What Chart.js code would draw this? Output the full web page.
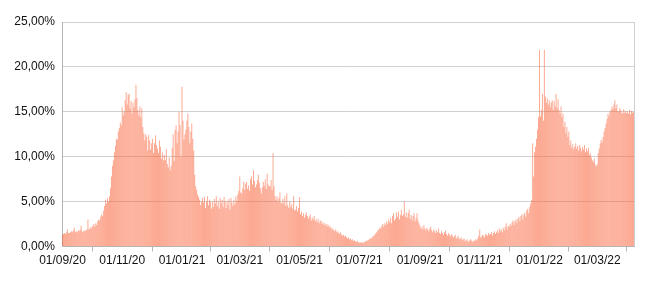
<!DOCTYPE html>
<html><head><meta charset="utf-8">
<script src="https://cdn.jsdelivr.net/npm/chart.js@4.4.1/dist/chart.umd.min.js"></script>
<style>html,body{margin:0;padding:0;background:#fff;}#wrap{width:650px;height:281px;position:relative;}</style>
</head><body><div id="wrap"><canvas id="c"></canvas></div>
<script>
// Daily values (%) from 01/09/2020 to 07/04/2022, one array per month
const sep20 = [1.3,1.4,1.5,1.4,1.6,1.9,1.5,1.5,1.6,1.7,1.6,1.8,2.1,1.6,1.7,1.6,1.8,1.7,1.9,2.3,1.7,1.6,1.8,1.7,1.8,1.9,3.0,1.9,2.0,2.2];
const oct20 = [2.0,2.3,2.5,2.2,2.6,2.4,2.8,3.0,2.9,3.3,3.6,3.4,4.0,4.5,5.2,4.8,5.4,5.0,5.6,6.5,7.8,9.0,9.6,10.5,11.2,12.0,11.9,12.8,13.2,13.8,13.5];
const nov20 = [15.5,14.6,15.0,16.3,17.2,15.8,16.9,17.0,15.4,16.2,14.8,16.0,15.5,16.4,18.0,16.5,15.2,14.6,15.6,14.4,15.4,13.3,12.6,11.8,12.5,12.2,10.7,12.4,11.8,10.8];
const dec20 = [11.5,12.0,10.4,11.5,12.4,11.3,10.9,10.4,11.8,11.1,9.8,10.5,9.6,10.2,9.6,10.8,9.2,8.8,9.9,8.5,9.0,11.0,12.5,9.5,13.0,13.5,11.5,12.8,15.0,13.5,10.0];
const jan21 = [17.8,14.0,11.9,12.5,13.0,14.0,14.8,13.3,11.5,12.8,13.7,12.0,10.7,8.0,6.7,6.3,5.8,5.5,5.2,4.6,5.0,5.4,4.9,5.5,4.3,5.0,5.6,4.6,5.2,5.0,4.2];
const feb21 = [5.0,4.4,5.3,4.8,5.6,4.5,5.1,4.2,5.4,4.8,5.2,4.4,5.5,5.0,4.3,5.1,4.6,5.3,4.1,5.4,4.9,4.5,5.2,4.7,5.6,5.1,5.8,6.2];
const mar21 = [7.8,6.0,5.9,6.5,7.2,6.3,7.0,7.2,6.4,6.8,6.2,7.5,7.8,6.9,8.5,7.3,6.6,6.9,7.4,8.0,7.1,6.5,5.9,6.6,7.2,6.8,7.5,6.4,8.1,6.9,6.7];
const apr21 = [6.7,7.4,6.3,10.4,6.7,5.6,5.2,5.6,5.0,5.4,6.0,4.9,4.8,5.3,4.8,5.6,4.5,5.9,4.6,4.3,5.0,4.4,4.7,4.2,5.6,4.0,4.1,4.5,3.9,4.3];
const may21 = [5.5,3.6,3.9,3.4,3.7,3.2,3.5,3.8,3.4,3.1,3.3,3.6,2.9,3.2,3.0,3.4,2.8,3.0,2.7,3.1,2.6,2.8,2.9,2.5,2.7,2.4,2.6,2.3,2.5,2.2,2.4];
const jun21 = [2.1,2.2,1.9,2.0,1.8,1.7,1.9,1.6,1.7,1.5,1.4,1.6,1.3,1.2,1.3,1.1,1.2,1.0,0.9,1.0,0.8,0.9,0.7,0.8,0.6,0.7,0.6,0.5,0.6,0.5];
const jul21 = [0.45,0.4,0.5,0.45,0.4,0.5,0.55,0.6,0.65,0.7,0.8,0.85,0.9,1.0,1.1,1.2,1.3,1.5,1.6,1.8,1.9,2.1,2.0,2.3,2.5,2.2,2.6,2.4,2.8,2.5,3.0];
const aug21 = [2.7,3.2,2.6,3.4,3.7,2.9,3.1,3.8,3.3,3.9,3.0,3.5,4.1,3.4,3.6,5.0,3.3,3.8,3.2,3.7,4.1,3.1,3.5,2.9,3.4,3.7,2.8,3.2,3.7,2.9,2.6];
const sep21 = [2.3,2.0,2.2,1.9,2.4,2.0,1.8,2.1,1.9,1.7,2.0,2.2,1.8,1.6,1.9,1.7,1.5,1.8,1.6,2.0,1.5,1.4,1.7,1.5,1.3,1.6,1.8,1.4,1.2,1.5];
const oct21 = [1.3,1.1,1.4,1.2,1.0,1.1,1.3,0.9,1.0,1.2,0.8,0.9,1.0,0.7,0.8,0.9,0.6,0.7,0.8,0.5,0.6,0.7,0.8,0.6,0.5,0.7,0.6,0.8,0.7,0.9,1.2];
const nov21 = [1.9,1.0,1.1,1.3,1.2,1.0,1.4,1.3,1.2,1.5,1.3,1.4,1.6,1.2,1.5,1.7,1.4,1.6,1.8,1.5,2.0,1.7,1.9,1.6,2.1,1.8,2.2,2.6,1.9,2.3];
const dec21 = [2.2,2.5,2.3,2.7,2.9,2.4,2.8,3.0,2.6,3.1,3.3,2.8,3.4,3.6,3.0,3.5,3.8,3.3,4.0,4.2,3.7,4.4,4.8,5.2,11.5,7.8,10.5,11.1,12.0,13.0,14.4];
const jan22 = [21.9,14.5,15.2,17.0,14.0,21.9,16.7,16.0,16.5,15.8,16.3,15.5,16.0,16.3,15.2,16.2,15.6,17.0,15.4,16.4,15.2,14.8,15.6,14.4,14.8,13.3,13.9,12.6,13.3,12.2,12.8];
const feb22 = [11.3,11.8,11.0,11.4,10.8,11.1,11.5,10.9,11.2,10.7,11.3,11.0,10.6,11.1,10.8,11.3,10.5,10.9,10.6,11.0,10.2,10.4,9.9,9.6,9.4,9.8,9.1,8.9];
const mar22 = [9.2,10.4,10.9,11.5,11.9,11.6,12.2,12.8,13.2,13.7,14.2,14.8,14.5,15.0,15.2,15.6,15.3,15.8,16.3,15.4,15.8,15.1,15.0,15.4,15.2,14.9,14.8,15.3,14.9,15.1,14.8];
const apr22 = [15.0,14.8,15.2,14.7,15.1,14.9,15.0];

const values = [].concat(sep20, oct20, nov20, dec20, jan21, feb21, mar21, apr21, may21, jun21,
  jul21, aug21, sep21, oct21, nov21, dec21, jan22, feb22, mar22, apr22);

// Daily categories dd/mm/yy starting 01/09/2020
const categories = values.map((_, i) => {
  const d = new Date(Date.UTC(2020, 8, 1 + i));
  const p = n => String(n).padStart(2, '0');
  return p(d.getUTCDate()) + '/' + p(d.getUTCMonth() + 1) + '/' + p(d.getUTCFullYear() % 100);
});

const tickLabels = ['01/09/20','01/11/20','01/01/21','01/03/21','01/05/21','01/07/21','01/09/21','01/11/21','01/01/22','01/03/22'];
const yMax = 25;
const yStep = 5;

const FONT = { family: "'Liberation Sans', Arial, sans-serif", size: 12 };

const frame = {
  id: 'frame',
  beforeDatasetsDraw(chart) {
    const a = chart.chartArea, ctx = chart.ctx;
    ctx.save();
    ctx.strokeStyle = '#cfcfcf';
    ctx.lineWidth = 1;
    ctx.beginPath();
    ctx.moveTo(Math.round(a.right) + 0.5, a.top);
    ctx.lineTo(Math.round(a.right) + 0.5, a.bottom);
    ctx.stroke();
    ctx.restore();
  }
};

new Chart(document.getElementById('c'), {
  type: 'bar',
  data: {
    labels: categories,
    datasets: [{
      data: values,
      backgroundColor: 'rgba(250,105,65,0.58)',
      borderWidth: 0,
      inflateAmount: 0,
      barPercentage: 1,
      categoryPercentage: 1
    }]
  },
  options: {
    responsive: true,
    maintainAspectRatio: false,
    devicePixelRatio: 1,
    animation: false,
    layout: { padding: { top: 22, right: 16, left: 0, bottom: 0 } },
    plugins: { legend: { display: false }, tooltip: { enabled: false }, title: { display: false } },
    scales: {
      x: {
        type: 'category',
        offset: true,
        afterBuildTicks: (scale) => {
          scale.ticks = scale.ticks.filter(t => tickLabels.includes(categories[t.value]));
        },
        afterFit: (scale) => { scale.height = 34.5; },
        grid: { display: true, drawOnChartArea: false, drawTicks: true, tickLength: 5, color: '#b5b5b5' },
        border: { display: true, color: '#b5b5b5' },
        ticks: { autoSkip: false, maxRotation: 0, minRotation: 0, padding: 2, color: '#111', font: FONT }
      },
      y: {
        min: 0,
        max: yMax,
        afterFit: (scale) => { scale.width = 62; },
        grid: { color: '#d0d0d0', drawTicks: false },
        border: { display: true, color: '#b5b5b5' },
        ticks: {
          stepSize: yStep,
          padding: 7,
          color: '#111',
          font: FONT,
          callback: v => v.toFixed(2).replace('.', ',') + '%'
        }
      }
    }
  },
  plugins: [frame]
});
</script>
</body></html>
